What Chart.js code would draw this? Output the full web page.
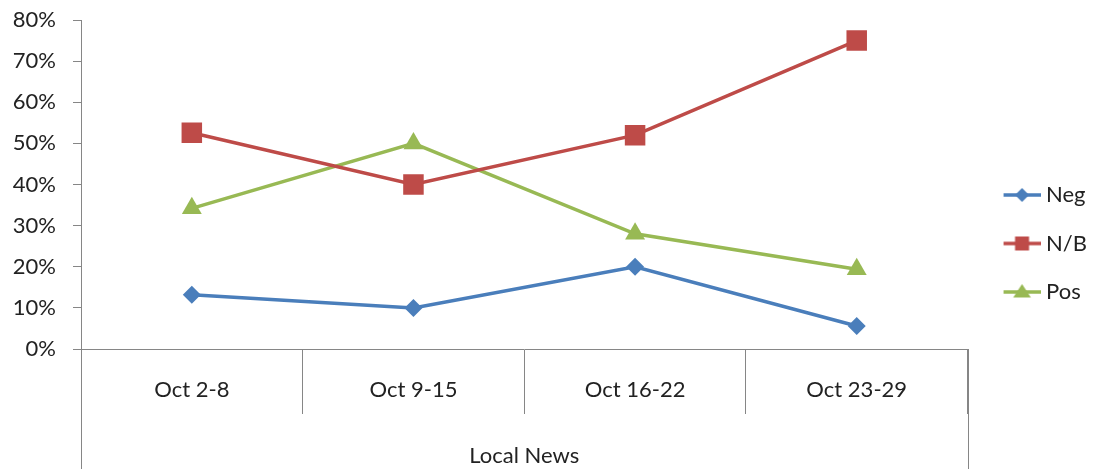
<!DOCTYPE html>
<html>
<head>
<meta charset="utf-8">
<script src="https://cdn.jsdelivr.net/npm/chart.js@4"></script>
<style>
  html, body { margin: 0; padding: 0; background: #fff; }
  #wrap { width: 1113px; height: 469px; }
</style>
</head>
<body>
<div id="wrap"><canvas id="lineChart" width="1113" height="469"></canvas></div>
<script>
const weeks = ["Oct 2-8", "Oct 9-15", "Oct 16-22", "Oct 23-29"];
const groupLabel = "Local News";
const neg = [0.132, 0.10, 0.20, 0.056];
const nb = [0.526, 0.40, 0.52, 0.75];
const pos = [0.342, 0.50, 0.28, 0.194];
const yTicks = [0, 0.1, 0.2, 0.3, 0.4, 0.5, 0.6, 0.7, 0.8];

const axisGray = "#868686";
const font = "Lato";

// legend icon: short line with the marker in the middle
function legendIcon(color, style, r) {
    const c = document.createElement("canvas");
    c.width = 52; c.height = 24;
    const g = c.getContext("2d");
    g.strokeStyle = color; g.fillStyle = color; g.lineWidth = 3.5;
    g.beginPath(); g.moveTo(15, 12); g.lineTo(52, 12); g.stroke();
    const cx = 33.5, cy = 12;
    g.beginPath();
    if (style === "rectRot") {
        g.moveTo(cx, cy - r); g.lineTo(cx + r, cy); g.lineTo(cx, cy + r); g.lineTo(cx - r, cy);
    } else if (style === "rect") {
        g.rect(cx - r, cy - r, 2 * r, 2 * r);
    } else {
        g.moveTo(cx, cy - r); g.lineTo(cx + r * 1.1, cy + r * 0.7); g.lineTo(cx - r * 1.1, cy + r * 0.7);
    }
    g.closePath(); g.fill();
    return c;
}

const series = [
    { label: "Neg", data: neg, color: "#4A7EBB", style: "rectRot", radius: 9, icon: 7 },
    { label: "N/B", data: nb, color: "#BE4B48", style: "rect", radius: 14.5, icon: 7 },
    { label: "Pos", data: pos, color: "#98B954", style: "triangle", radius: 11.5, icon: 8 }
];

// extend the outer separators down to the bottom edge
const outerLines = {
    id: "outerLines",
    afterDraw(chart) {
        const { ctx, chartArea } = chart;
        const xs = [chartArea.left, chartArea.right];
        ctx.save();
        ctx.strokeStyle = axisGray;
        ctx.lineWidth = 1;
        xs.forEach(x => {
            ctx.beginPath();
            ctx.moveTo(Math.round(x) + 0.5, chartArea.bottom);
            ctx.lineTo(Math.round(x) + 0.5, chart.height);
            ctx.stroke();
        });
        ctx.restore();
    }
};

const ctx = document.getElementById("lineChart").getContext("2d");
const myChart = new Chart(ctx, {
    type: "line",
    data: {
        labels: weeks,
        datasets: series.map(s => ({
            label: s.label,
            data: s.data,
            borderColor: s.color,
            backgroundColor: s.color,
            borderWidth: 3.5,
            pointStyle: s.style,
            pointRadius: s.radius,
            pointBorderWidth: 0,
            pointBackgroundColor: s.color,
            tension: 0,
            iconStyle: legendIcon(s.color, s.style, s.icon)
        }))
    },
    options: {
        responsive: false,
        animation: false,
        events: [],
        layout: { padding: { left: 0, right: 16, top: 2, bottom: 0 } },
        plugins: {
            tooltip: { enabled: false },
            legend: {
                position: "right",
                title: { display: true, text: " ", font: { size: 10 }, padding: 2 },
                labels: {
                    usePointStyle: true,
                    pointStyleWidth: 41,
                    padding: 26.5,
                    color: "#222",
                    font: { family: font, size: 22 },
                    generateLabels(chart) {
                        return chart.data.datasets.map((d, i) => ({
                            text: d.label,
                            pointStyle: d.iconStyle,
                            fillStyle: d.borderColor,
                            strokeStyle: d.borderColor,
                            lineWidth: 0,
                            fontColor: "#222",
                            datasetIndex: i
                        }));
                    }
                }
            }
        },
        scales: {
            x: {
                offset: true,
                grid: {
                    offset: true,
                    drawOnChartArea: false,
                    tickLength: 65,
                    color: axisGray
                },
                border: { color: axisGray },
                ticks: { padding: -37, color: "#222", font: { family: font, size: 22 } },
                title: {
                    display: true,
                    text: groupLabel,
                    color: "#222",
                    font: { family: font, size: 22 },
                    padding: { top: 0, bottom: 0 }
                },
                afterFit(scale) { scale.height = 120; }
            },
            y: {
                min: 0,
                max: 0.8,
                afterBuildTicks(scale) { scale.ticks = yTicks.map(v => ({ value: v })); },
                grid: { drawOnChartArea: false, tickLength: 8, color: axisGray },
                border: { color: axisGray },
                ticks: {
                    padding: 17,
                    color: "#222",
                    font: { family: font, size: 22 },
                    callback: v => Math.round(v * 100) + "%"
                },
                afterFit(scale) { scale.width = 81; scale.paddingTop = 20; }
            }
        }
    },
    plugins: [outerLines]
});
</script>
</body>
</html>
